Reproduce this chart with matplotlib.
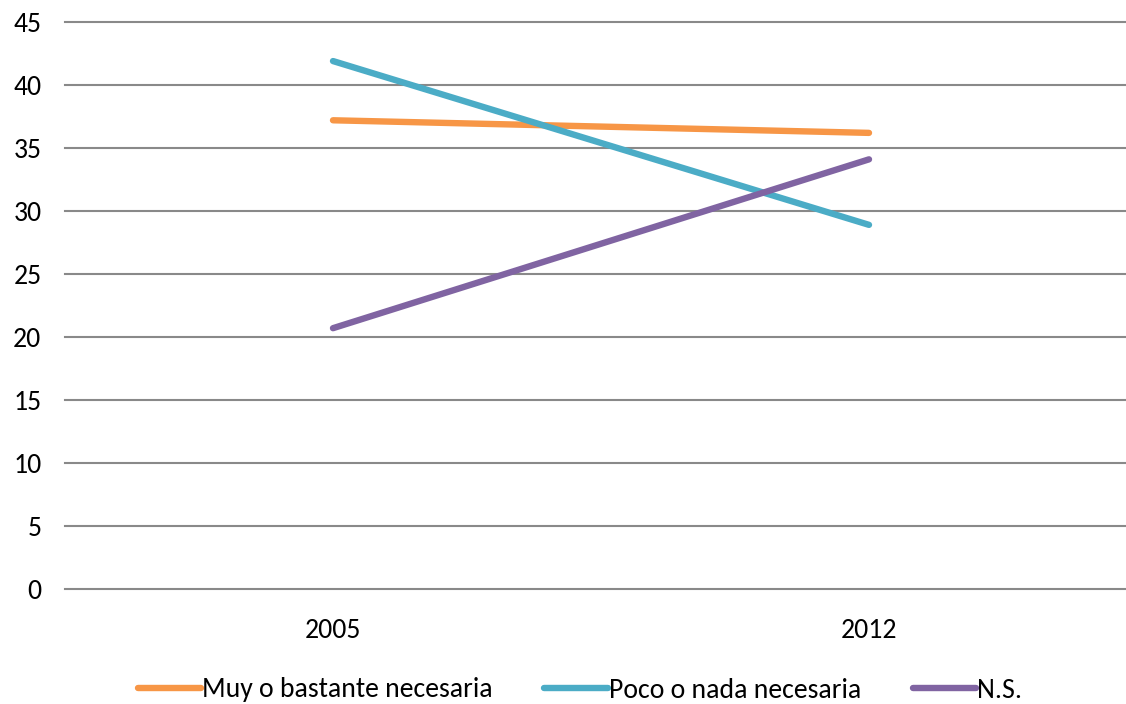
import matplotlib
matplotlib.use('Agg')
import matplotlib.pyplot as plt

plt.rcParams['font.family'] = ['Carlito', 'DejaVu Sans']

years = ['2005', '2012']
muy = [37.2, 36.2]
poco = [41.9, 28.9]
ns = [20.7, 34.1]

series = [('Muy o bastante necesaria', muy, '#F79646'),
          ('Poco o nada necesaria', poco, '#4BACC6'),
          ('N.S.', ns, '#8064A2')]

fig = plt.figure(figsize=(11.26, 7.04), dpi=100)
ax = fig.add_axes([65/1126, 1 - 589/704, 1 - 65/1126, (589 - 22)/704])

x = range(len(years))
for name, vals, col in series:
    ax.plot(x, vals, color=col, lw=4.6, solid_capstyle='round', label=name)

ax.set_xlim(-0.5, -0.5 + 1061/536)
ax.set_ylim(0, 45)
ax.set_yticks(range(0, 50, 5))
ax.set_xticks(list(x))
ax.set_xticklabels(years)
ax.yaxis.grid(True, color='#898989', lw=1.5)
for gl in ax.get_ygridlines():
    gl.set_clip_on(False)
ax.set_axisbelow(True)
for s in ax.spines.values():
    s.set_visible(False)
ax.tick_params(axis='both', length=0, labelsize=20, colors='black')
ax.tick_params(axis='y', pad=17)
ax.tick_params(axis='x', pad=21)

fig.legend(loc='center', bbox_to_anchor=(580/1126, 1 - 690/704), ncol=3, frameon=False,
           fontsize=20, handlelength=2.27, handletextpad=0.05, columnspacing=1.85)

fig.savefig('out.png', dpi=100)
